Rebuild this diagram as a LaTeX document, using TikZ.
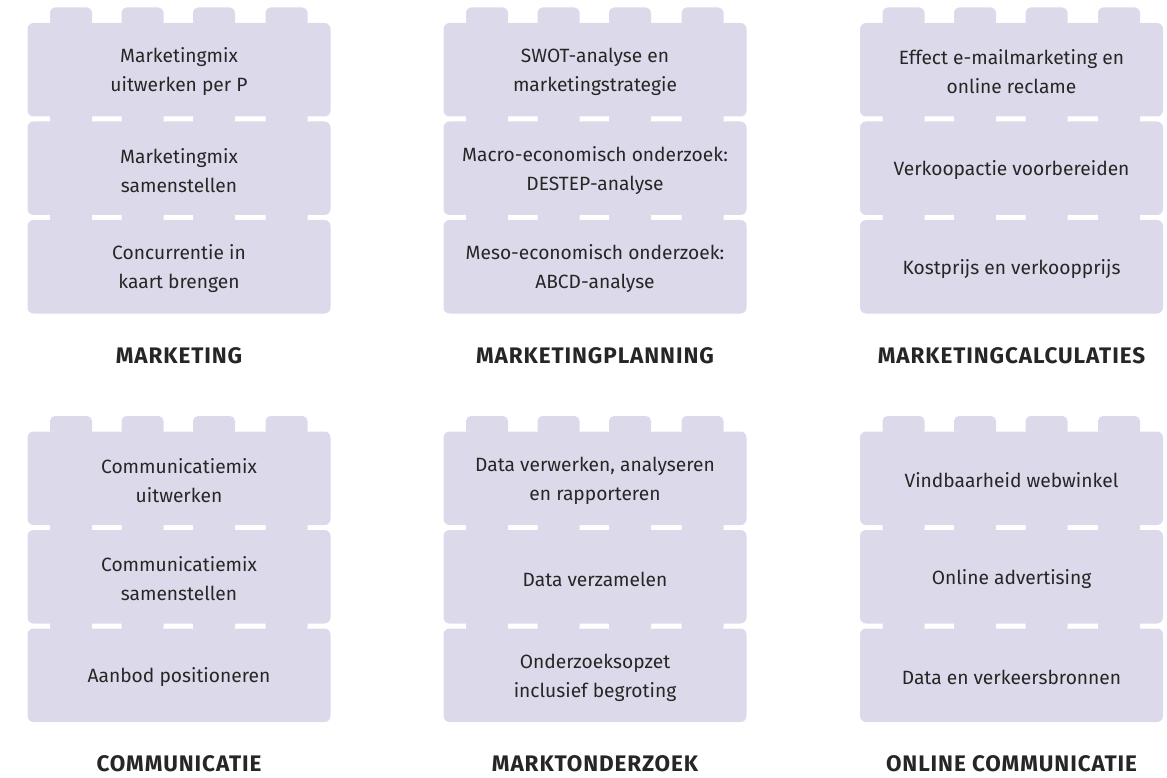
\documentclass[tikz,border=0pt]{standalone}
\usepackage{fontspec}
\setmainfont{Fira Sans}
\newfontfamily\stacktitlefont[LetterSpace=4]{Fira Sans}
\definecolor{brickfill}{HTML}{DCDAEA}
\definecolor{ink}{HTML}{262626}
\tikzset{
  brickbody/.style={fill=brickfill, rounded corners=6pt},
  brickstud/.style={fill=brickfill, rounded corners=5pt},
  bricktext/.style={text=ink, align=center, font=\fontsize{19.2}{29}\selectfont, inner sep=0pt},
  stacktitle/.style={text=ink, font=\stacktitlefont\fontsize{22.5}{24}\selectfont\bfseries, inner sep=0pt}
}
\newcommand\legobrick[5]{% #1 left x, #2 top y, #3 node name, #4 text
  \fill[brickbody] (#1,#2) rectangle ++(303,93.5);
  \foreach \s in {22.5,94,165.5,238}{
    \fill[brickstud] (#1+\s,#2+4) rectangle ++(42,-19.5);
  }
  \node[bricktext] (#3) at (#1+151.5,#2+49) {#4};
}
\newcommand\legocol[7]{% #1 x, #2 y offset, #3 name, #4-#6 texts (top to bottom), #7 title
  \legobrick{#1}{#2+220}{#3c}{#6}{}
  \legobrick{#1}{#2+121.5}{#3b}{#5}{}
  \legobrick{#1}{#2+23}{#3a}{#4}{}
  \node[stacktitle] (#3t) at (#1+151.5,#2+355.5) {#7};
}
\begin{document}
\begin{tikzpicture}[x=1pt,y=-1pt]
\useasboundingbox (0,0) rectangle (1167,778);
\legocol{27.5}{0}{mk}{Marketingmix\\uitwerken per P}{Marketingmix\\samenstellen}{Concurrentie in\\kaart brengen}{MARKETING}
\legocol{443.5}{0}{mp}{SWOT-analyse en\\marketingstrategie}{Macro-economisch onderzoek:\\DESTEP-analyse}{Meso-economisch onderzoek:\\ABCD-analyse}{MARKETINGPLANNING}
\legocol{860}{0}{mc}{Effect e-mailmarketing en\\online reclame}{Verkoopactie voorbereiden}{Kostprijs en verkoopprijs}{MARKETINGCALCULATIES}
\legocol{27.5}{408.5}{co}{Communicatiemix\\uitwerken}{Communicatiemix\\samenstellen}{Aanbod positioneren}{COMMUNICATIE}
\legocol{443.5}{408.5}{mo}{Data verwerken, analyseren\\en rapporteren}{Data verzamelen}{Onderzoeksopzet\\inclusief begroting}{MARKTONDERZOEK}
\legocol{860}{408.5}{oc}{Vindbaarheid webwinkel}{Online advertising}{Data en verkeersbronnen}{ONLINE COMMUNICATIE}
\end{tikzpicture}
\end{document}
